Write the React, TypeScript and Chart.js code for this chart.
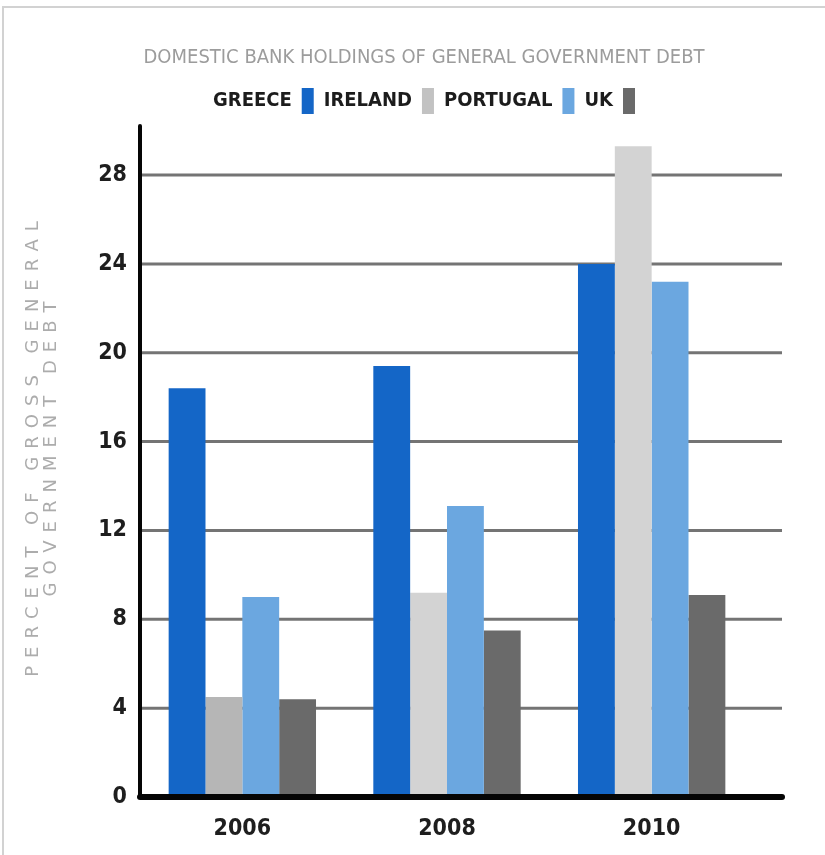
import React, { useEffect, useRef } from 'react';
import { Chart, registerables } from 'chart.js';

Chart.register(...registerables);

const TITLE = 'DOMESTIC BANK HOLDINGS OF GENERAL GOVERNMENT DEBT';
const Y_TITLE = ['PERCENT OF GROSS GENERAL', 'GOVERNMENT DEBT'];
const years = ['2006', '2008', '2010'];
const seriesNames = ['GREECE', 'IRELAND', 'PORTUGAL', 'UK'];
const greece = [18.4, 19.4, 24.0];
const ireland = [4.5, 9.2, 29.3];
const portugal = [9.0, 13.1, 23.2];
const uk = [4.4, 7.5, 9.1];
const Y_MAX = 30.3;
const Y_STEP = 4;

const COND = "'DejaVu Sans Condensed', 'DejaVu Sans', sans-serif";

const COLORS = {
  greece: '#1466c7',
  ireland: ['#b6b6b6', '#d3d3d3', '#d3d3d3'],
  irelandLegend: '#c2c2c2',
  portugal: '#6ba7e0',
  uk: '#6a6a6a',
};

const framePlugin = {
  id: 'frame',
  beforeDatasetsDraw(chart: any) {
    const { ctx, chartArea, scales } = chart;
    const y = scales.y;
    ctx.save();
    ctx.strokeStyle = '#747474';
    ctx.lineWidth = 3;
    y.ticks.forEach((t: any) => {
      if (t.value <= 0) return;
      const py = y.getPixelForValue(t.value);
      ctx.beginPath();
      ctx.moveTo(chartArea.left, py);
      ctx.lineTo(chartArea.right + 28, py);
      ctx.stroke();
    });
    ctx.restore();
  },
  afterDatasetsDraw(chart: any) {
    const { ctx, chartArea } = chart;
    ctx.save();
    ctx.strokeStyle = '#050505';
    ctx.lineCap = 'round';
    ctx.lineWidth = 4;
    ctx.beginPath();
    ctx.moveTo(chartArea.left, chartArea.top + 2);
    ctx.lineTo(chartArea.left, chartArea.bottom);
    ctx.stroke();
    ctx.lineWidth = 6;
    ctx.beginPath();
    ctx.moveTo(chartArea.left, chartArea.bottom);
    ctx.lineTo(chartArea.right + 28, chartArea.bottom);
    ctx.stroke();
    ctx.restore();
  },
  afterDraw(chart: any) {
    const { ctx } = chart;
    ctx.save();
    ctx.translate(33, 449);
    ctx.rotate(-Math.PI / 2);
    ctx.font = "18px 'DejaVu Sans', sans-serif";
    ctx.fillStyle = '#acacac';
    ctx.textAlign = 'center';
    ctx.textBaseline = 'middle';
    try { (ctx as any).letterSpacing = '8px'; } catch (e) {}
    ctx.fillText(Y_TITLE[0], 4, 0);
    ctx.fillText(Y_TITLE[1], 4, 18);
    ctx.restore();
  },
};

export default function App() {
  const ref = useRef<HTMLCanvasElement | null>(null);

  useEffect(() => {
    if (!ref.current) return;
    const legendColors = [COLORS.greece, COLORS.irelandLegend, COLORS.portugal, COLORS.uk];
    const chart = new Chart(ref.current, {
      type: 'bar',
      data: {
        labels: years,
        datasets: [
          { label: seriesNames[0], data: greece, backgroundColor: COLORS.greece, yAxisID: 'y' },
          { label: seriesNames[1], data: ireland, backgroundColor: COLORS.ireland, yAxisID: 'y' },
          { label: seriesNames[2], data: portugal, backgroundColor: COLORS.portugal, yAxisID: 'y' },
          { label: seriesNames[3], data: uk, backgroundColor: COLORS.uk, yAxisID: 'y' },
        ],
      },
      options: {
        responsive: false,
        animation: false,
        devicePixelRatio: 1,
        layout: { padding: { left: 23, right: 0, top: 0, bottom: 0 } },
        datasets: {
          bar: { categoryPercentage: 0.72, barPercentage: 1.0, borderWidth: 0 },
        },
        plugins: {
          title: {
            display: true,
            text: TITLE,
            color: '#9c9c9c',
            font: { family: COND, size: 20, weight: 'normal' },
            padding: { top: 46, bottom: 8 },
          },
          legend: {
            display: true,
            position: 'top',
            rtl: true,
            reverse: true,
            labels: {
              boxWidth: 12,
              boxHeight: 26,
              padding: 10,
              color: '#1c1c1c',
              font: { family: COND, size: 20, weight: 'bold' },
              generateLabels: (c: any) => {
                const items = (Chart as any).defaults.plugins.legend.labels.generateLabels(c);
                items.forEach((it: any) => {
                  const col = legendColors[it.datasetIndex];
                  it.fillStyle = col;
                  it.strokeStyle = col;
                  it.lineWidth = 0;
                });
                return items;
              },
            },
          },
          tooltip: { enabled: false },
        },
        scales: {
          x: {
            grid: { display: false, drawTicks: false },
            border: { display: false },
            ticks: {
              color: '#1e1e1e',
              font: { family: COND, size: 23, weight: '600' },
              padding: 18,
            },
            afterFit: (s: any) => { s.height = 58; },
          },
          y: {
            position: 'left',
            min: 0,
            max: Y_MAX,
            grid: { display: false, drawTicks: false },
            border: { display: false },
            ticks: {
              stepSize: Y_STEP,
              color: '#1e1e1e',
              font: { family: COND, size: 23, weight: '600' },
              padding: 13,
            },
            afterBuildTicks: (s: any) => {
              s.ticks = s.ticks.filter((t: any) => Math.abs(t.value % Y_STEP) < 1e-9);
            },
            afterFit: (s: any) => { s.width = 117; },
          },
          y2: {
            position: 'right',
            display: true,
            grid: { display: false },
            border: { display: false },
            ticks: { display: false },
            afterFit: (s: any) => { s.width = 71; },
          },
        },
      } as any,
      plugins: [framePlugin],
    });
    return () => chart.destroy();
  }, []);

  return (
    <div style={{ position: 'absolute', left: 0, top: 0, width: 825, height: 855, background: '#fff' }}>
      <div
        style={{
          position: 'absolute',
          left: 2,
          top: 6,
          right: 0,
          bottom: 0,
          borderTop: '2px solid #d2d2d2',
          borderLeft: '2px solid #d2d2d2',
        }}
      />
      <canvas ref={ref} width={825} height={855} style={{ position: 'absolute', left: 0, top: 0, width: 825, height: 855 }} />
    </div>
  );
}
